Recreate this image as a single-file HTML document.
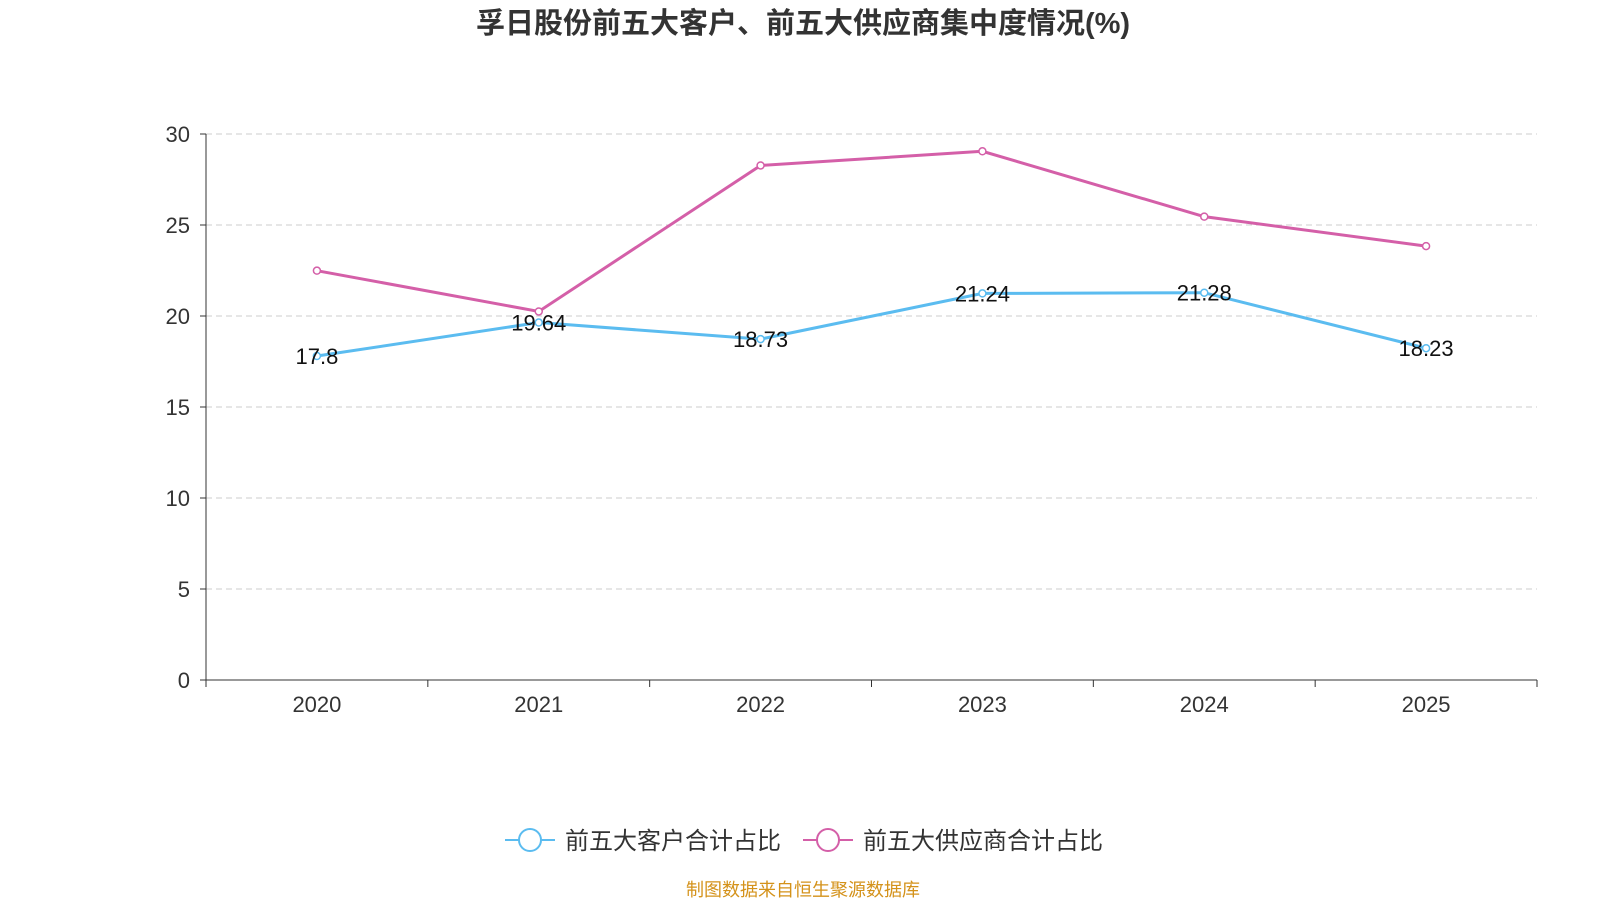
<!DOCTYPE html>
<html><head><meta charset="utf-8"><style>
body{margin:0;background:#fff;}
svg{display:block;font-family:"Liberation Sans","Noto Sans CJK SC",sans-serif;}
</style></head><body>
<svg id="c" width="1600" height="900">
<text x="803" y="33" text-anchor="middle" font-size="29" font-weight="bold" fill="#333">孚日股份前五大客户、前五大供应商集中度情况(%)</text>
<g id="grid"></g><g id="axes"></g><g id="series"></g>
<g>
<line x1="505" y1="840" x2="555" y2="840" stroke="#5bbcf0" stroke-width="2"/>
<circle cx="530" cy="840" r="11" fill="#fff" stroke="#5bbcf0" stroke-width="2"/>
<text x="565" y="849" font-size="24" fill="#333">前五大客户合计占比</text>
<line x1="803" y1="840" x2="853" y2="840" stroke="#d45fa8" stroke-width="2"/>
<circle cx="828" cy="840" r="11" fill="#fff" stroke="#d45fa8" stroke-width="2"/>
<text x="863" y="849" font-size="24" fill="#333">前五大供应商合计占比</text>
</g>
<text x="803" y="896" text-anchor="middle" font-size="18" fill="#d4921a">制图数据来自恒生聚源数据库</text>
</svg>
<script>
const categories=["2020","2021","2022","2023","2024","2025"];
const customers=[17.8,19.64,18.73,21.24,21.28,18.23];
const suppliers=[22.49,20.25,28.27,29.05,25.46,23.84];
const yTicks=[0,5,10,15,20,25,30];
const NS="http://www.w3.org/2000/svg";
const L=206,R=1537,T=134,B=680,yMax=30;
const bw=(R-L)/categories.length;
const x=i=>L+bw*(i+0.5);
const y=v=>B-(v/yMax)*(B-T);
function mk(tag,attrs,parent,txt){const e=document.createElementNS(NS,tag);for(const k in attrs)e.setAttribute(k,attrs[k]);if(txt!==undefined)e.textContent=txt;document.getElementById(parent).appendChild(e);return e;}
yTicks.forEach(t=>{
 if(t>0){const g=mk('line',{x1:L,x2:R,y1:y(t),y2:y(t),stroke:'#ccc','stroke-dasharray':'6,4'},'grid');
 
 }
 mk('line',{x1:L-6,x2:L,y1:y(t),y2:y(t),stroke:'#333'},'axes');
 const lb=mk('text',{x:L-16,y:y(t)+8,'text-anchor':'end','font-size':22,fill:'#333'},'axes',t);
 
 
});
const ya=mk('line',{x1:L,x2:L,y1:T,y2:B,stroke:'#333'},'axes');


const xa=mk('line',{x1:L,x2:R,y1:B,y2:B,stroke:'#333'},'axes');


for(let i=0;i<=categories.length;i++)mk('line',{x1:L+bw*i,x2:L+bw*i,y1:B,y2:B+7,stroke:'#333'},'axes');
categories.forEach((c,i)=>{
 const t=mk('text',{x:x(i),y:B+32,'text-anchor':'middle','font-size':22,fill:'#333'},'axes',c);
 
 
});
function series(vals,color,name,labels){
 const p=mk('polyline',{points:vals.map((v,i)=>x(i)+','+y(v)).join(' '),fill:'none',stroke:color,'stroke-width':3},'series');
 
 
 vals.forEach((v,i)=>{
  const c=mk('circle',{cx:x(i),cy:y(v),r:3.5,fill:'#fff',stroke:color,'stroke-width':1.5},'series');
  
  
  if(labels){const t=mk('text',{x:x(i),y:y(v)+8,'text-anchor':'middle','font-size':22,fill:'#111'},'series',v);
  
  }
 });
}
series(suppliers,'#d45fa8','suppliers',false);
series(customers,'#5bbcf0','customers',true);
</script>
</body></html>
